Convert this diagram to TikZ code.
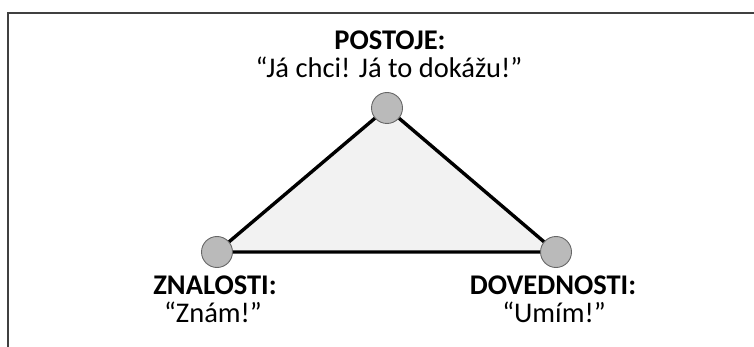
\documentclass[tikz,border=0pt]{standalone}
\usepackage{fontspec}
\setmainfont{Carlito}
\begin{document}
\begin{tikzpicture}[x=1pt,y=-1pt,
  frame/.style={draw=black!75, line width=1.8pt},
  edge/.style={draw=black, line width=3.4pt},
  vertex/.style={circle, draw=black!60, line width=0.9pt, fill=black!27, minimum size=31pt, inner sep=0pt},
  heading/.style={font=\fontsize{28.5}{33}\selectfont\bfseries, inner sep=0pt, anchor=base},
  quote/.style={font=\fontsize{28.5}{33}\selectfont, inner sep=0pt, anchor=base}]
  \useasboundingbox (0,0) rectangle (754,347);
  % open frame: top and left rules
  \coordinate (fbl) at (8,347);
  \coordinate (ftl) at (8,13);
  \coordinate (ftr) at (754,13);
  \draw[frame] (fbl) -- (ftl) -- (ftr);
  % triangle corners
  \coordinate (A) at (387,108);
  \coordinate (B) at (217,252);
  \coordinate (C) at (556,252);
  \fill[black!5] (A) -- (B) -- (C) -- cycle;
  \draw[edge, line join=round] (A) -- (B) -- (C) -- cycle;
  \node[vertex] (vA) at (A) {};
  \node[vertex] (vB) at (B) {};
  \node[vertex] (vC) at (C) {};
  % labels (placed on their baselines)
  \node[heading] (hA) at (390,50) {POSTOJE:};
  \node[quote] (qA) at (389,78) {“Já chci! Já to dokážu!”};
  \node[heading] (hB) at (215,294) {ZNALOSTI:};
  \node[quote] (qB) at (213,322) {“Znám!”};
  \node[heading] (hC) at (553,294) {DOVEDNOSTI:};
  \node[quote] (qC) at (554,322) {“Umím!”};
\end{tikzpicture}
\end{document}
